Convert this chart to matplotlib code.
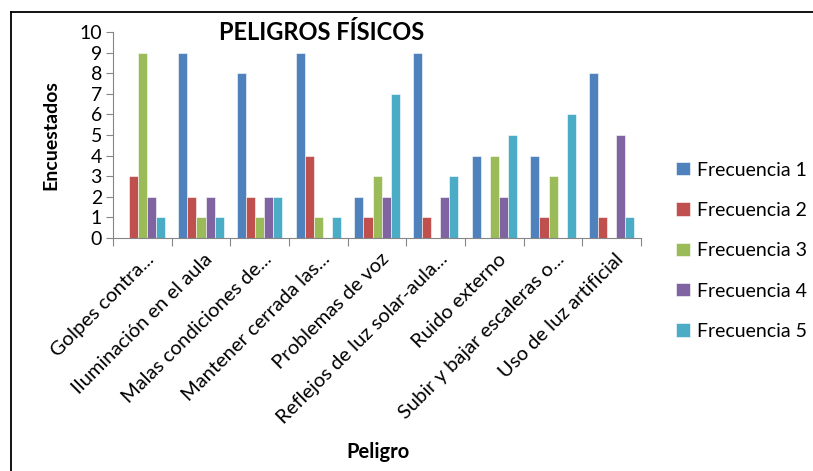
import matplotlib.pyplot as plt
import matplotlib.transforms as mtransforms
from matplotlib.lines import Line2D
import numpy as np

# --- Datos ---
categorias = ['Golpes contra...', 'Iluminación en el aula', 'Malas condiciones de...',
              'Mantener cerrada las...', 'Problemas de voz', 'Reflejos de luz solar-aula...',
              'Ruido externo', 'Subir y bajar escaleras o...', 'Uso de luz artificial']
frecuencia_1 = [0, 9, 8, 9, 2, 9, 4, 4, 8]
frecuencia_2 = [3, 2, 2, 4, 1, 1, 0, 1, 1]
frecuencia_3 = [9, 1, 1, 1, 3, 0, 4, 3, 0]
frecuencia_4 = [2, 2, 2, 0, 2, 2, 2, 0, 5]
frecuencia_5 = [1, 1, 2, 1, 7, 3, 5, 6, 1]
series = ['Frecuencia 1', 'Frecuencia 2', 'Frecuencia 3', 'Frecuencia 4', 'Frecuencia 5']
colores = ['#4F81BD', '#C0504D', '#9BBB59', '#8064A2', '#4BACC6']

plt.rcParams['font.family'] = ['Lato', 'DejaVu Sans']

fig = plt.figure(figsize=(8.13, 4.71), dpi=100)
ax = fig.add_axes([0.139, 0.4947, 0.6495, 0.4374])

x = np.arange(len(categorias))
ancho = 0.154
valores = [frecuencia_1, frecuencia_2, frecuencia_3, frecuencia_4, frecuencia_5]
for i, (vals, nombre, color) in enumerate(zip(valores, series, colores)):
    ax.bar(x + (i - 2) * ancho, vals, ancho, color=color, label=nombre,
           edgecolor='white', linewidth=0.4)

ax.set_xlim(-0.5, len(categorias) - 0.5)
ax.set_ylim(0, 10)
ax.set_yticks(range(0, 11))
ax.set_xticks(np.arange(len(categorias) + 1) - 0.5, minor=False)
ax.set_xticklabels([])
ax.set_xticks(x, minor=True)
ax.set_xticklabels(categorias, minor=True, rotation=45, ha='right',
                   rotation_mode='anchor', fontsize=14.5)
ax.tick_params(axis='x', which='minor', length=0, pad=9)
ax.tick_params(axis='x', which='major', length=6, color='#868686')
ax.tick_params(axis='y', length=5, color='#868686', labelsize=14, pad=3)

# desplazar un poco las etiquetas a la derecha
desplazamiento = mtransforms.ScaledTranslation(3 / 100, 0, fig.dpi_scale_trans)
for lbl in ax.get_xticklabels(minor=True):
    lbl.set_transform(lbl.get_transform() + desplazamiento)

for lado in ['top', 'right']:
    ax.spines[lado].set_visible(False)
for lado in ['left', 'bottom']:
    ax.spines[lado].set_color('#868686')

ax.set_ylabel('Encuestados', fontsize=14, fontweight='bold', labelpad=14)
fig.text(0.465, 0.040, 'Peligro', fontsize=14.5, fontweight='bold', ha='center', va='center')
fig.text(0.395, 0.930, 'PELIGROS FÍSICOS', fontsize=17, fontweight='bold', ha='center', va='center')

ax.legend(loc='center left', bbox_to_anchor=(1.052, -0.062), frameon=False, fontsize=14,
          borderaxespad=0, handlelength=0.68, handleheight=0.68, labelspacing=1.2,
          handletextpad=0.38)

# marco de la figura
fig.add_artist(Line2D([11 / 813, 11 / 813], [0, 1 - 12 / 471], color='black', linewidth=1.3))
fig.add_artist(Line2D([11 / 813, 1], [1 - 12 / 471, 1 - 12 / 471], color='black', linewidth=1.3))

fig.savefig('out.png', dpi=100)
